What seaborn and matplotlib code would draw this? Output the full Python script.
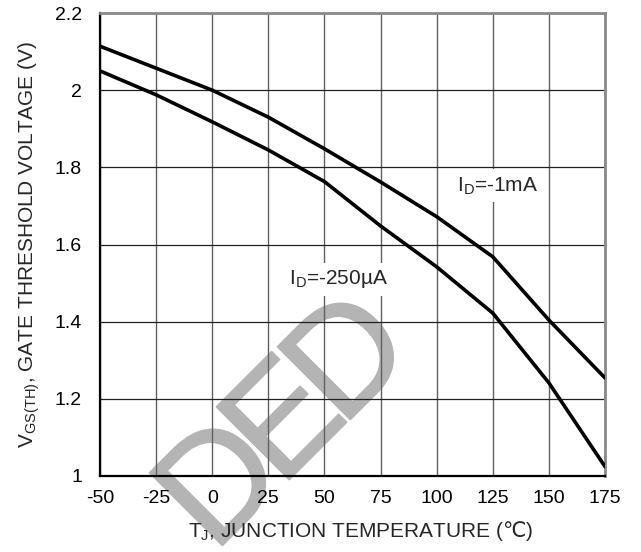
import pandas as pd
import matplotlib
matplotlib.use('Agg')
import matplotlib.pyplot as plt
import matplotlib.patheffects as pe
import seaborn as sns

# chart data
temps = [-50, -25, 0, 25, 50, 75, 100, 125, 150, 175]
vth_1ma = [2.114, 2.057, 2.000, 1.930, 1.848, 1.762, 1.672, 1.568, 1.404, 1.254]
vth_250ua = [2.050, 1.988, 1.918, 1.845, 1.763, 1.648, 1.542, 1.422, 1.241, 1.024]
x_ticks = [-50, -25, 0, 25, 50, 75, 100, 125, 150, 175]
y_ticks = [1, 1.2, 1.4, 1.6, 1.8, 2, 2.2]
y_tick_labels = ['1', '1.2', '1.4', '1.6', '1.8', '2', '2.2']
watermark = ['D', 'E', 'D']

sns.set_theme(style='white')
plt.rcParams['font.family'] = ['Liberation Sans', 'DejaVu Sans']
plt.rcParams['mathtext.fontset'] = 'custom'
plt.rcParams['mathtext.rm'] = 'Liberation Sans'
plt.rcParams['mathtext.sf'] = 'DejaVu Sans'
plt.rcParams['axes.unicode_minus'] = False

df = pd.DataFrame({
    'temp': temps * 2,
    'vth': vth_1ma + vth_250ua,
    'curve': ['1mA'] * len(temps) + ['250uA'] * len(temps),
})

fig = plt.figure(figsize=(6.41, 5.52), dpi=100)
ax = fig.add_axes([0.156, 0.1377, 0.788, 0.8387])
ax.patch.set_alpha(0)

# grey watermark letters, one by one along a 45 degree line, behind the axes
gray = '#b4b4b4'
for i, letter in enumerate(watermark):
    fig.text(0.350 + 0.0998 * i, 0.115 + 0.1141 * i, letter, rotation=45,
             rotation_mode='anchor', ha='center', va='center', fontsize=108,
             color=gray, zorder=-5,
             path_effects=[pe.withStroke(linewidth=1, foreground=gray)])

sns.lineplot(data=df, x='temp', y='vth', hue='curve',
             palette=['black', 'black'], linewidth=2.6, legend=False, ax=ax, zorder=3)

ax.set_xlim(-50, 175)
ax.set_ylim(1, 2.2)
ax.set_xticks(x_ticks)
ax.set_yticks(y_ticks)
ax.set_yticklabels(y_tick_labels)
for x in x_ticks:
    ax.axvline(x, color='#606060', lw=1.0, zorder=1)
for y in y_ticks:
    ax.axhline(y, color='#202020', lw=0.9, zorder=1)

for side in ['left', 'bottom']:
    ax.spines[side].set_color('black')
    ax.spines[side].set_linewidth(1.6)
for side in ['right', 'top']:
    ax.spines[side].set_color('#8a8a8a')
    ax.spines[side].set_linewidth(2.0)

ax.tick_params(axis='both', length=0, labelsize=14, colors='black')
ax.tick_params(axis='x', pad=10)
ax.tick_params(axis='y', pad=13)

ax.set_xlabel(r'T$_\mathregular{J}$, JUNCTION TEMPERATURE ($\mathsf{℃}$)', fontsize=15)
ax.xaxis.set_label_coords(0.516, -0.093)
ax.set_ylabel(r'V$_\mathregular{GS(TH)}$, GATE THRESHOLD VOLTAGE (V)', fontsize=15, labelpad=9)

box = dict(facecolor='white', edgecolor='none', pad=4)
ax.text(109, 1.752, r'I$_\mathregular{D}$=-1mA', fontsize=15, ha='left', va='center', bbox=box, zorder=4)
ax.text(34, 1.51, r'I$_\mathregular{D}$=-250µA', fontsize=15, ha='left', va='center', bbox=box, zorder=4)

fig.savefig('out.png', dpi=100)
